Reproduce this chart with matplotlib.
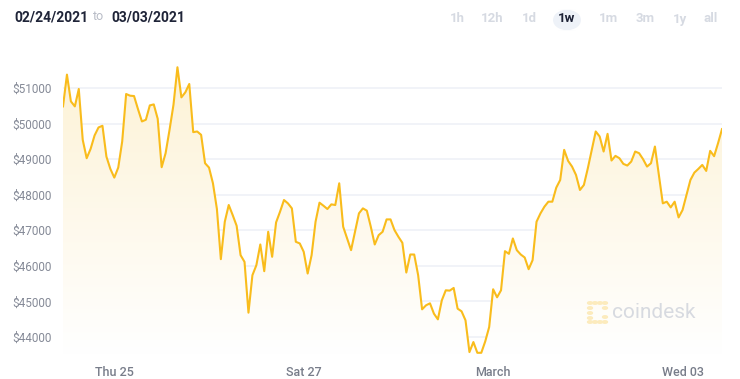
import numpy as np
import pandas as pd
import matplotlib
matplotlib.use("Agg")
import matplotlib.pyplot as plt
import matplotlib.dates as mdates
from matplotlib.patches import FancyBboxPatch
from matplotlib.colors import LinearSegmentedColormap

# ---- data (hourly BTC price) ----
start_time = "2021-02-24 11:00"
prices = [
    50483, 51376, 50624, 50483, 50972, 49543, 49026, 49290, 49666, 49891,
    49938, 49073, 48726, 48481, 48763, 49496, 50831, 50784, 50774, 50408,
    50060, 50107, 50511, 50539, 50135, 48773, 49167, 49825, 50530, 51583,
    50737, 50878, 51113, 49759, 49778, 49684, 48885, 48763, 48321, 47600,
    46188, 47241, 47711, 47428, 47127, 46301, 46112, 44684, 45737, 46018,
    46601, 45850, 46959, 46255, 47222, 47522, 47851, 47757, 47616, 46677,
    46630, 46395, 45784, 46301, 47241, 47776, 47691, 47598, 47729, 47710,
    48321, 47100, 46771, 46442, 46959, 47476, 47616, 47551, 47100, 46601,
    46864, 46959, 47306, 47306, 47006, 46817, 46648, 45812, 46319, 46319,
    45737, 44778, 44891, 44947, 44656, 44496, 45031, 45313, 45304, 45379,
    44797, 44722, 44469, 43576, 43858, 43556, 43556, 43876, 44280, 45342,
    45116, 45313, 46413, 46338, 46770, 46441, 46319, 46235, 45906, 46160,
    47241, 47476, 47664, 47804, 47804, 48199, 48415, 49261, 48951, 48791,
    48556, 48133, 48274, 48744, 49261, 49778, 49637, 49214, 49712, 48961,
    49092, 49026, 48867, 48820, 48932, 49214, 49167, 48998, 48791, 48885,
    49355, 48556, 47757, 47804, 47644, 47804, 47362, 47569, 47992, 48415,
    48622, 48725, 48838, 48669, 49233, 49083, 49449, 49844,
]
ytick_values = [44000, 45000, 46000, 47000, 48000, 49000, 50000, 51000]
xtick_dates = ["2021-02-25", "2021-02-27", "2021-03-01", "2021-03-03"]
xtick_labels = ["Thu 25", "Sat 27", "March", "Wed 03"]
range_from = "02/24/2021"
range_to = "03/03/2021"
periods = ["1h", "12h", "1d", "1w", "1m", "3m", "1y", "all"]
active_period = "1w"

# ---- figure ----
W, H = 740, 379
fig = plt.figure(figsize=(W / 100, H / 100), dpi=100)
fig.patch.set_facecolor("white")

ax_l, ax_r, ax_t, ax_b = 63, 722, 62, 355
ax = fig.add_axes([ax_l / W, (H - ax_b) / H, (ax_r - ax_l) / W, (ax_b - ax_t) / H])

times = pd.date_range(start=start_time, periods=len(prices), freq="h")
tnum = mdates.date2num(times.to_pydatetime())
p = np.array(prices, dtype=float)

ymin, ymax = 43494, 51731
ax.set_xlim(tnum[0], tnum[-1])
ax.set_ylim(ymin, ymax)

line_color = "#f9bc1c"

# gradient fill under the line
poly = ax.fill_between(tnum, p, ymin, color="none", lw=0)
grad = np.linspace(1, 0, 256).reshape(-1, 1)
cmap = LinearSegmentedColormap.from_list("g", ["#ffffff", "#fdf2d5"])
img = ax.imshow(grad, cmap=cmap, aspect="auto", origin="upper",
                extent=[tnum[0], tnum[-1], ymin, ymax], zorder=1, vmin=0, vmax=1)
img.set_clip_path(poly.get_paths()[0], transform=ax.transData)

# grid lines
for v in ytick_values:
    ax.axhline(v, color="#eef0f6", lw=1.1, zorder=0.5)

ax.plot(tnum, p, color=line_color, lw=1.5, zorder=3)

for s in ax.spines.values():
    s.set_visible(False)
ax.set_yticks(ytick_values)
ax.set_yticklabels([f"${v}" for v in ytick_values])
ax.set_xticks(mdates.date2num(pd.to_datetime(xtick_dates).to_pydatetime()))
ax.set_xticklabels(xtick_labels)
ax.tick_params(axis="y", length=0, pad=8, labelsize=8.5, labelcolor="#858a97")
ax.tick_params(axis="x", length=0, pad=8, labelsize=9, labelcolor="#787d8a")
for lab in ax.get_yticklabels() + ax.get_xticklabels():
    lab.set_family("Roboto")
for lab in ax.get_xticklabels():
    lab.set_fontweight("medium")
ax.set_facecolor("none")

# header texts
fig.text(14 / W, 1 - 17 / H, range_from, fontsize=10, fontweight="bold",
         color="#1f2438", family="Roboto", va="center", ha="left")
fig.text(93 / W, 1 - 17 / H, "to", fontsize=9, color="#b8bcc6",
         family="Roboto", va="center", ha="left")
fig.text(111 / W, 1 - 17 / H, range_to, fontsize=10, fontweight="bold",
         color="#1f2438", family="Roboto", va="center", ha="left")

period_x = [457, 492, 529, 567, 609, 645, 680, 711]
pill = FancyBboxPatch((553 / W, 1 - 31 / H), 28 / W, 22 / H,
                      boxstyle="round,pad=0,rounding_size=0.03",
                      transform=fig.transFigure, facecolor="#eef2f8",
                      edgecolor="none", zorder=0)
fig.patches.append(pill)
for px, lab in zip(period_x, periods):
    active = lab == active_period
    fig.text(px / W, 1 - 19 / H, lab, fontsize=9.5, fontweight="bold",
             color="#1f2438" if active else "#d6dae2", family="Roboto",
             ha="center", va="center")

# watermark
fig.text(612 / W, 1 - 313 / H, "coindesk", fontsize=15, color="#d7dae0",
         family="Roboto", ha="left", va="center")
dot_c = "#fcebbd"
icon_pts = [(590, 303), (595, 303), (600, 303), (605, 303),
            (590, 308), (590, 313), (590, 318), (590, 322),
            (595, 322), (600, 322), (605, 322), (605, 308), (605, 317)]
for (ix, iy) in icon_pts:
    fig.patches.append(plt.Circle((ix / W, 1 - iy / H), 0.0033,
                                  transform=fig.transFigure, color=dot_c))

fig.savefig("out.png", dpi=100, facecolor="white")
